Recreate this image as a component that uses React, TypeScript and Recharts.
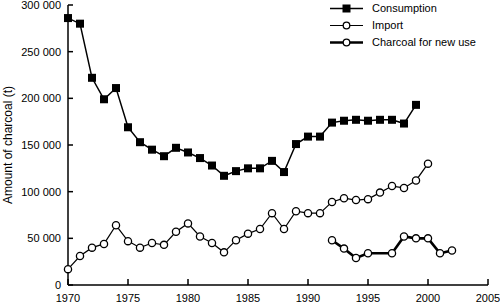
import {
  LineChart,
  Line,
  XAxis,
  YAxis,
  Legend,
} from "recharts";

const years = [
  1970, 1971, 1972, 1973, 1974, 1975, 1976, 1977, 1978, 1979, 1980, 1981,
  1982, 1983, 1984, 1985, 1986, 1987, 1988, 1989, 1990, 1991, 1992, 1993,
  1994, 1995, 1996, 1997, 1998, 1999, 2000, 2001, 2002,
];

// 1970-1999
const consumption = [
  286000, 280000, 222000, 199000, 211000, 169000, 153000, 145000, 138000,
  147000, 142000, 136000, 128000, 117000, 122000, 125000, 125000, 133000,
  121000, 151000, 159000, 159000, 174000, 176000, 177000, 176000, 177000,
  177000, 173000, 193000,
];

// 1970-2000
const imports = [
  17000, 31000, 40000, 44000, 64000, 47000, 40000, 45000, 43000, 57000,
  66000, 52000, 45000, 35000, 48000, 55000, 60000, 77000, 60000, 79000,
  77000, 77000, 89000, 93000, 91000, 92000, 99000, 106000, 104000, 112000,
  130000,
];

// 1992-2002, no point for 1996
const newUse = [
  48000, 39000, 29000, 34000, null, 34000, 52000, 50000, 50000, 34000, 37000,
];
const newUseStart = 1992;

const xTicks = [1970, 1975, 1980, 1985, 1990, 1995, 2000, 2005];
const yTicks = [0, 50000, 100000, 150000, 200000, 250000, 300000];

const legendItems = [
  { name: "Consumption", dot: "square", width: 1.5 },
  { name: "Import", dot: "circle", width: 1.2 },
  { name: "Charcoal for new use", dot: "circle", width: 2.6 },
];

const data = years.map((year, i) => ({
  year,
  consumption: i < consumption.length ? consumption[i] : null,
  imports: i < imports.length ? imports[i] : null,
  newUse:
    year >= newUseStart && year - newUseStart < newUse.length
      ? newUse[year - newUseStart]
      : null,
}));

const FONT = "'Liberation Sans', Arial, sans-serif";

const fmt = (v: number) =>
  v === 0 ? "0" : `${Math.floor(v / 1000)} ${String(v % 1000).padStart(3, "0")}`;

function SquareDot(props: any) {
  const { cx, cy, index } = props;
  if (cx == null || cy == null || props.value == null) return <g key={index} />;
  return <rect key={index} x={cx - 4} y={cy - 4} width={8} height={8} fill="#000" />;
}

function CircleDot(props: any) {
  const { cx, cy, index, value } = props;
  if (cx == null || cy == null || value == null) return <g key={index} />;
  return (
    <circle key={index} cx={cx} cy={cy} r={3.6} fill="#fff" stroke="#000" strokeWidth={1.3} />
  );
}

function LegendBox() {
  return (
    <svg width={175} height={52}>
      {legendItems.map((item, i) => {
        const y = 8.5 + i * 17;
        return (
          <g key={item.name}>
            <line x1={5} x2={38} y1={y} y2={y} stroke="#000" strokeWidth={item.width} />
            {item.dot === "square" ? (
              <rect x={17.5} y={y - 4} width={8} height={8} fill="#000" />
            ) : (
              <circle cx={21.5} cy={y} r={3.3} fill="#fff" stroke="#000" strokeWidth={1.3} />
            )}
            <text x={47} y={y} dy="0.35em" fontSize={11} fontFamily={FONT} fill="#000">
              {item.name}
            </text>
          </g>
        );
      })}
    </svg>
  );
}

export default function App() {
  return (
    <div style={{ position: "absolute", left: 0, top: 0, width: 500, height: 303 }}>
      <LineChart
        width={500}
        height={303}
        data={data}
        margin={{ top: 5, right: 12, left: 0, bottom: 0 }}
      >
        <XAxis
          dataKey="year"
          type="number"
          domain={[1970, 2005]}
          ticks={xTicks}
          interval={0}
          height={18}
          stroke="#000"
          tickSize={-6}
          tickMargin={15.5}
          tick={{ fill: "#000", fontSize: 11, fontFamily: FONT }}
          axisLine={{ stroke: "#000", strokeWidth: 1.5 }}
          tickLine={{ stroke: "#000", strokeWidth: 1.5 }}
        />
        <YAxis
          type="number"
          domain={[0, 300000]}
          ticks={yTicks}
          interval={0}
          width={68}
          tickFormatter={fmt}
          tickSize={-5}
          tickMargin={12}
          tick={{ fill: "#000", fontSize: 11, fontFamily: FONT }}
          axisLine={{ stroke: "#000", strokeWidth: 1.5 }}
          tickLine={{ stroke: "#000", strokeWidth: 1.5 }}
          label={{
            value: "Amount of charcoal (t)",
            angle: -90,
            position: "insideLeft",
            offset: 8,
            style: { textAnchor: "middle", fontSize: 12, fontFamily: FONT, fill: "#000" },
          }}
        />
        <Legend
          layout="vertical"
          align="center"
          verticalAlign="middle"
          wrapperStyle={{ top: 0, left: 325, width: 175, height: 52 }}
          content={() => <LegendBox />}
        />
        <Line
          type="linear"
          dataKey="consumption"
          stroke="#000"
          strokeWidth={1.5}
          dot={SquareDot}
          activeDot={false}
          connectNulls={false}
          isAnimationActive={false}
        />
        <Line
          type="linear"
          dataKey="imports"
          stroke="#000"
          strokeWidth={1.2}
          dot={CircleDot}
          activeDot={false}
          isAnimationActive={false}
        />
        <Line
          type="linear"
          dataKey="newUse"
          stroke="#000"
          strokeWidth={2.6}
          dot={CircleDot}
          activeDot={false}
          connectNulls
          isAnimationActive={false}
        />
      </LineChart>
    </div>
  );
}
